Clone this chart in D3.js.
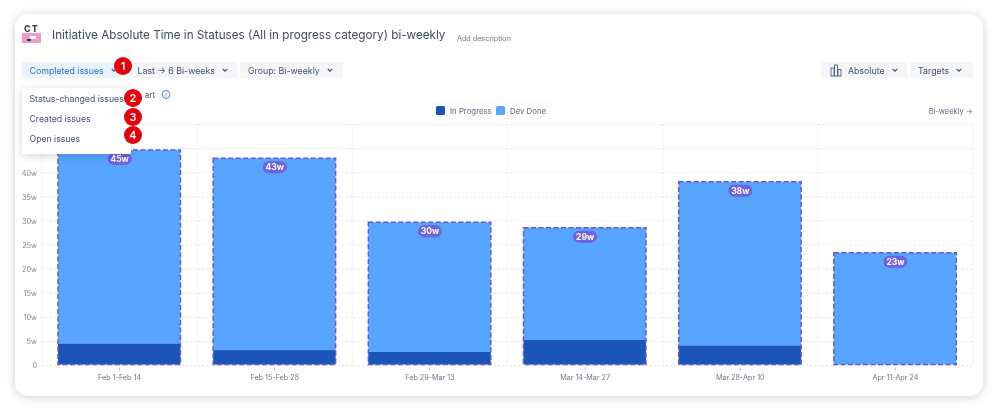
<!DOCTYPE html>
<html>
<head>
<meta charset="utf-8">
<script src="https://cdn.jsdelivr.net/npm/d3@7"></script>
<style>
  html, body { margin: 0; padding: 0; background: #fff; overflow: hidden; }
  text { font-family: Inter, "Noto Sans", sans-serif; }
  svg { filter: blur(0.3px); }
</style>
</head>
<body>
<svg id="chart" width="998" height="411"></svg>
<script>
// ---- data
const periods = ["Feb 1-Feb 14", "Feb 15-Feb 28", "Feb 29-Mar 13", "Mar 14-Mar 27", "Mar 28-Apr 10", "Apr 11-Apr 24"];
const inProgress = [4.6, 3.2, 2.8, 5.3, 4.2, 0.2];
const devDone = [40.1, 39.8, 26.9, 23.3, 33.9, 23.2];
const totalLabels = ["45w", "43w", "30w", "29w", "38w", "23w"];
const yTicks = [0, 5, 10, 15, 20, 25, 30, 35, 40, 45, 50];
const yTickLabels = ["0", "5w", "10w", "15w", "20w", "25w", "30w", "35w", "40w", "", ""];
const seriesNames = ["In Progress", "Dev Done"];
const seriesColors = ["#1a56b8", "#57a5ff"];
const menuItems = ["Status-changed issues", "Created issues", "Open issues"];

const svg = d3.select("#chart");
const defs = svg.append("defs");

function shadow(id, blur, opacity, dy) {
  const f = defs.append("filter").attr("id", id)
    .attr("x", "-10%").attr("y", "-15%").attr("width", "120%").attr("height", "130%");
  f.append("feDropShadow").attr("dx", 0).attr("dy", dy)
    .attr("stdDeviation", blur).attr("flood-color", "#000").attr("flood-opacity", opacity);
}
shadow("cardShadow", 5, 0.2, 1);
shadow("menuShadow", 4, 0.16, 2);

// card
svg.append("rect").attr("x", 15).attr("y", 14).attr("width", 968).attr("height", 382)
  .attr("rx", 14).attr("fill", "#fff").attr("filter", "url(#cardShadow)");

// ---- scales
const x = d3.scaleBand().domain(periods).range([42, 973]).paddingInner(0).paddingOuter(0);
const y = d3.scaleLinear().domain([0, 50]).range([365.5, 124.5]);
const barPad = 16;
const barWidth = x.bandwidth() - barPad * 2 - 0.7;

// ---- grid
const grid = svg.append("g").attr("stroke", "#dfe1e6").attr("stroke-width", 0.8).attr("stroke-dasharray", "2 2");
grid.selectAll("line.h").data(yTicks).join("line").attr("class", "h")
  .attr("x1", 42).attr("x2", 973)
  .attr("y1", d => y(d)).attr("y2", d => y(d));
grid.selectAll("line.v").data(d3.range(periods.length + 1)).join("line").attr("class", "v")
  .attr("x1", i => 42 + i * x.bandwidth()).attr("x2", i => 42 + i * x.bandwidth())
  .attr("y1", y(50)).attr("y2", y(0));

// ---- axes
const yAxis = d3.axisLeft(y).tickValues(yTicks).tickSize(0).tickPadding(5)
  .tickFormat((d, i) => yTickLabels[i]);
const yG = svg.append("g").attr("transform", "translate(42,0)").call(yAxis);
yG.select(".domain").remove();
yG.selectAll("text").attr("font-size", 7.3).attr("fill", "#7a869a");

const xAxis = d3.axisBottom(x).tickSize(3).tickPadding(4);
const xG = svg.append("g").attr("transform", `translate(0,${y(0) + 2})`).call(xAxis);
xG.select(".domain").remove();
xG.selectAll("line").attr("stroke", "#8993a4").attr("stroke-width", 0.6);
xG.selectAll("text").attr("font-size", 7.2).attr("fill", "#6b778c");

// ---- stacked bars
const rows = periods.map((p, i) => ({ period: p, ip: inProgress[i], done: devDone[i], label: totalLabels[i] }));
const stacked = d3.stack().keys(["ip", "done"])(rows);

svg.append("g").selectAll("g").data(stacked).join("g")
  .attr("fill", (d, i) => seriesColors[i])
  .selectAll("rect").data(d => d).join("rect")
  .attr("x", d => x(d.data.period) + barPad)
  .attr("width", barWidth)
  .attr("y", d => y(d[1]))
  .attr("height", d => y(d[0]) - y(d[1]) - (d[0] === 0 ? 1 : 0));

// dashed outline around each whole bar
svg.append("g").selectAll("rect").data(rows).join("rect")
  .attr("x", d => x(d.period) + barPad)
  .attr("width", barWidth)
  .attr("y", d => y(d.ip + d.done))
  .attr("height", d => y(0) - y(d.ip + d.done) - 1)
  .attr("fill", "none")
  .attr("stroke", "#6458d8")
  .attr("stroke-width", 1.5)
  .attr("stroke-dasharray", "5 2.5");

// value pills
const pills = svg.append("g").selectAll("g").data(rows).join("g")
  .attr("transform", d => `translate(${x(d.period) + x.bandwidth() / 2},${y(d.ip + d.done) + 9})`);
pills.append("rect").attr("x", -12).attr("y", -6).attr("width", 24).attr("height", 12).attr("rx", 6)
  .attr("fill", "#6f62e0");
pills.append("text").attr("text-anchor", "middle").attr("dy", "0.35em")
  .attr("font-size", 8.5).attr("font-weight", 700).attr("fill", "#fff")
  .text(d => d.label);

// ---- legend
const legend = svg.append("g");
legend.append("rect").attr("x", 433).attr("y", 103).attr("width", 116).attr("height", 14)
  .attr("fill", "#fff").attr("stroke", "#f1f2f4").attr("stroke-width", 0.7);
const legendX = [436, 496];
seriesNames.forEach((name, i) => {
  legend.append("rect").attr("x", legendX[i]).attr("y", 106).attr("width", 9).attr("height", 9)
    .attr("rx", 1.5).attr("fill", seriesColors[i]);
  legend.append("text").attr("x", legendX[i] + 14).attr("y", 113.5)
    .attr("font-size", 7.8).attr("fill", "#5e6c84").text(name);
});
svg.append("text").attr("x", 973).attr("y", 113.5).attr("text-anchor", "end")
  .attr("font-size", 7.5).attr("fill", "#5e6c84").text("Bi-weekly →");

// ---- header
const logo = svg.append("g");
logo.append("rect").attr("x", 22).attr("y", 33).attr("width", 19).attr("height", 10).attr("fill", "#f09cc9");
logo.append("text").attr("x", 31.5).attr("y", 32).attr("text-anchor", "middle")
  .attr("font-size", 9).attr("font-weight", 800).attr("letter-spacing", 1).attr("fill", "#3a3f4b").text("CT");
logo.append("rect").attr("x", 30).attr("y", 36).attr("width", 6).attr("height", 3).attr("fill", "#fff");
logo.append("rect").attr("x", 27).attr("y", 39).attr("width", 4).attr("height", 2).attr("fill", "#253858");

svg.append("text").attr("x", 52).attr("y", 39).attr("font-size", 11.7).attr("fill", "#3f4a5f")
  .text("Initiative Absolute Time in Statuses (All in progress category) bi-weekly");
svg.append("text").attr("x", 457).attr("y", 41).attr("font-size", 7.2).attr("fill", "#6b778c")
  .text("Add description");

// ---- toolbar buttons
function button(bx, bw, label, tx, fill, color) {
  svg.append("rect").attr("x", bx).attr("y", 62).attr("width", bw).attr("height", 16).attr("rx", 2).attr("fill", fill);
  svg.append("text").attr("x", tx).attr("y", 73.5).attr("font-size", 8.8).attr("fill", color).text(label);
}
function chevron(cx) {
  svg.append("path").attr("d", d3.line()([[cx - 2.2, 69], [cx, 71.2], [cx + 2.2, 69]]))
    .attr("fill", "none").attr("stroke", "#42526e").attr("stroke-width", 1.1);
}
button(22, 100, "Completed issues", 29.5, "#e9f2ff", "#2f6fd0");
chevron(114);
button(130, 107, "Last → 6 Bi-weeks", 137.5, "#f4f5f7", "#42526e");
chevron(225);
button(240, 103, "Group: Bi-weekly", 248, "#f4f5f7", "#42526e");
chevron(330);
button(821, 86, "Absolute", 848, "#f4f5f7", "#42526e");
chevron(895);
button(910, 63, "Targets", 918, "#f4f5f7", "#42526e");
chevron(959);

// small bar-chart icon inside the Absolute button
const icon = svg.append("g").attr("fill", "none").attr("stroke", "#42526e").attr("stroke-width", 0.8);
[[831, 68, 3, 8], [834.5, 65, 3, 11], [838, 69.5, 3, 6.5]].forEach(r => {
  icon.append("rect").attr("x", r[0]).attr("y", r[1]).attr("width", r[2]).attr("height", r[3]);
});

// ---- what the dropdown leaves visible of the chart name, info icon
svg.append("text").attr("x", 155).attr("y", 97.5).attr("text-anchor", "end")
  .attr("font-size", 8).attr("fill", "#42526e").text("art");
svg.append("circle").attr("cx", 166).attr("cy", 94.5).attr("r", 4)
  .attr("fill", "none").attr("stroke", "#2f7fe0").attr("stroke-width", 0.9);
svg.append("text").attr("x", 166).attr("y", 97).attr("text-anchor", "middle")
  .attr("font-size", 6.5).attr("fill", "#2f7fe0").text("i");

// ---- dropdown menu
svg.append("rect").attr("x", 22).attr("y", 88).attr("width", 109).attr("height", 66).attr("rx", 2)
  .attr("fill", "#fff").attr("filter", "url(#menuShadow)");
svg.append("g").selectAll("text").data(menuItems).join("text")
  .attr("x", 29.5).attr("y", (d, i) => 101.5 + i * 20.2)
  .attr("font-size", 8.7).attr("fill", "#42526e").text(d => d);

// ---- numbered red badges
const badgeX = [123, 133, 133, 133];
const badgeY = [66, 98, 117, 135];
const badges = svg.append("g").selectAll("g").data(badgeX).join("g")
  .attr("transform", (d, i) => `translate(${d},${badgeY[i]})`);
badges.append("circle").attr("r", 9).attr("fill", "#e5000b");
badges.append("text").attr("text-anchor", "middle").attr("dy", "0.36em")
  .attr("font-size", 11).attr("font-weight", 600).attr("fill", "#fff").text((d, i) => i + 1);
</script>
</body>
</html>
